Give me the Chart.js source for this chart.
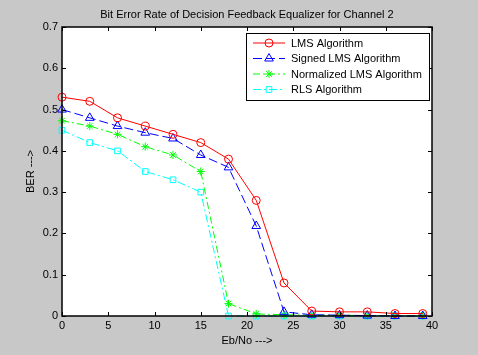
<!DOCTYPE html>
<html>
<head>
<meta charset="utf-8">
<script src="https://cdn.jsdelivr.net/npm/chart.js@4/dist/chart.umd.min.js"></script>
<style>
  html, body { margin: 0; padding: 0; background: #c8c8c8; }
  #wrap { width: 478px; height: 355px; }
</style>
</head>
<body>
<div id="wrap"><canvas id="berChart" width="478" height="355"></canvas></div>
<script>
// Eb/No values (dB) and BER for each equalizer algorithm
var ebno = [0, 3, 6, 9, 12, 15, 18, 21, 24, 27, 30, 33, 36, 39];
var lmsBer = [0.53, 0.52, 0.48, 0.46, 0.44, 0.42, 0.38, 0.28, 0.08, 0.012, 0.01, 0.01, 0.006, 0.006];
var signedBer = [0.50, 0.48, 0.46, 0.444, 0.43, 0.39, 0.36, 0.218, 0.01, 0.003, 0.002, 0.001, 0, 0];
var normBer = [0.473, 0.46, 0.44, 0.41, 0.39, 0.35, 0.03, 0.005, 0.003, 0.002, 0.002, 0.001, 0.001, 0.001];
var rlsBer = [0.45, 0.42, 0.40, 0.35, 0.33, 0.30, 0, 0, 0, 0, 0, 0, 0, 0];
var seriesNames = ['LMS Algorithm', 'Signed LMS Algorithm', 'Normalized LMS Algorithm', 'RLS Algorithm'];
var chartTitle = 'Bit Error Rate of Decision Feedback Equalizer for Channel 2';

function pts(vals) {
    return ebno.map(function(x, i) { return { x: x, y: vals[i] }; });
}

var font = 'Arial, "Liberation Sans", sans-serif';

// white plot box, black frame, inward ticks, title and legend like MATLAB
var framePlugin = {
    id: 'frame',
    beforeDraw: function(chart) {
        var a = chart.chartArea, ctx = chart.ctx;
        ctx.save();
        ctx.fillStyle = '#ffffff';
        ctx.fillRect(a.left, a.top, a.right - a.left, a.bottom - a.top);
        ctx.restore();
    },
    afterDraw: function(chart) {
        var a = chart.chartArea, ctx = chart.ctx;
        var xs = chart.scales.x, ys = chart.scales.y;
        ctx.save();
        ctx.strokeStyle = '#000';
        ctx.lineWidth = 1;
        ctx.beginPath();
        xs.ticks.forEach(function(t) {
            var px = Math.round(xs.getPixelForValue(t.value)) + 0.5;
            ctx.moveTo(px, a.bottom); ctx.lineTo(px, a.bottom - 4);
            ctx.moveTo(px, a.top); ctx.lineTo(px, a.top + 4);
        });
        ys.ticks.forEach(function(t) {
            var py = Math.round(ys.getPixelForValue(t.value)) + 0.5;
            ctx.moveTo(a.left, py); ctx.lineTo(a.left + 4, py);
            ctx.moveTo(a.right, py); ctx.lineTo(a.right - 4, py);
        });
        ctx.stroke();
        ctx.lineWidth = 1.5;
        ctx.strokeRect(Math.round(a.left), Math.round(a.top), Math.round(a.right - a.left), Math.round(a.bottom - a.top));

        // title centred over the plot box
        ctx.fillStyle = '#000';
        ctx.font = '11px ' + font;
        ctx.textAlign = 'center';
        ctx.textBaseline = 'middle';
        ctx.fillText(chartTitle, (a.left + a.right) / 2, a.top - 12);

        // legend box in the upper right of the plot
        var lx = a.right - 186, ly = a.top + 6, lw = 183, lh = 67;
        ctx.fillStyle = '#fff';
        ctx.fillRect(lx, ly, lw, lh);
        ctx.lineWidth = 1;
        ctx.strokeStyle = '#000';
        ctx.strokeRect(lx + 0.5, ly + 0.5, lw, lh);
        chart.data.datasets.forEach(function(ds, i) {
            var cy = ly + 10 + i * 15.5;
            ctx.strokeStyle = ds.borderColor;
            ctx.lineWidth = 1;
            ctx.setLineDash(ds.borderDash || []);
            ctx.beginPath();
            ctx.moveTo(lx + 7, cy); ctx.lineTo(lx + 39, cy);
            ctx.stroke();
            ctx.setLineDash([]);
            ctx.fillStyle = 'rgba(0,0,0,0)';
            Chart.helpers.drawPoint(ctx, {
                pointStyle: ds.pointStyle, radius: ds.pointRadius, rotation: 0, borderWidth: 1
            }, lx + 23, cy);
            ctx.fillStyle = '#000';
            ctx.font = '11px ' + font;
            ctx.textBaseline = 'middle';
            ctx.textAlign = 'left';
            ctx.fillText(ds.label, lx + 45, cy + 0.5);
        });
        ctx.restore();
    }
};

var ctx = document.getElementById('berChart').getContext('2d');
var berChart = new Chart(ctx, {
    type: 'line',
    data: {
        datasets: [{
            label: seriesNames[0],
            data: pts(lmsBer),
            borderColor: '#ff0000',
            pointStyle: 'circle',
            pointRadius: 4,
            borderDash: []
        }, {
            label: seriesNames[1],
            data: pts(signedBer),
            borderColor: '#0000ff',
            pointStyle: 'triangle',
            pointRadius: 5,
            borderDash: [9, 4]
        }, {
            label: seriesNames[2],
            data: pts(normBer),
            borderColor: '#00ff00',
            pointStyle: 'star',
            pointRadius: 4,
            borderDash: [7, 3, 2, 3]
        }, {
            label: seriesNames[3],
            data: pts(rlsBer),
            borderColor: '#00ffff',
            pointStyle: 'rect',
            pointRadius: 4,
            borderDash: [8, 3, 2, 3]
        }]
    },
    options: {
        responsive: false,
        animation: false,
        clip: false,
        elements: {
            line: { borderWidth: 1, tension: 0, fill: false },
            point: { backgroundColor: 'rgba(0,0,0,0)', borderWidth: 1 }
        },
        layout: { padding: { left: 0, right: 46, top: 27, bottom: 0 } },
        scales: {
            x: {
                type: 'linear',
                min: 0,
                max: 40,
                afterFit: function(s) { s.height = 39; },
                grid: { display: false, drawTicks: false },
                border: { display: false },
                ticks: { stepSize: 5, padding: 3, color: '#000', font: { family: font, size: 11 } },
                title: { display: true, text: 'Eb/No --->', color: '#000', font: { family: font, size: 11 }, padding: { top: 0, bottom: 7 } }
            },
            y: {
                min: 0,
                max: 0.7,
                afterFit: function(s) { s.width = 62; },
                grid: { display: false, drawTicks: false },
                border: { display: false },
                ticks: { stepSize: 0.1, padding: 4, color: '#000', font: { family: font, size: 11 } },
                title: { display: true, text: 'BER --->', color: '#000', font: { family: font, size: 11 }, padding: { top: 24, bottom: 0 } }
            }
        },
        plugins: {
            legend: { display: false },
            tooltip: { enabled: false },
            title: { display: false }
        }
    },
    plugins: [framePlugin]
});
</script>
</body>
</html>
